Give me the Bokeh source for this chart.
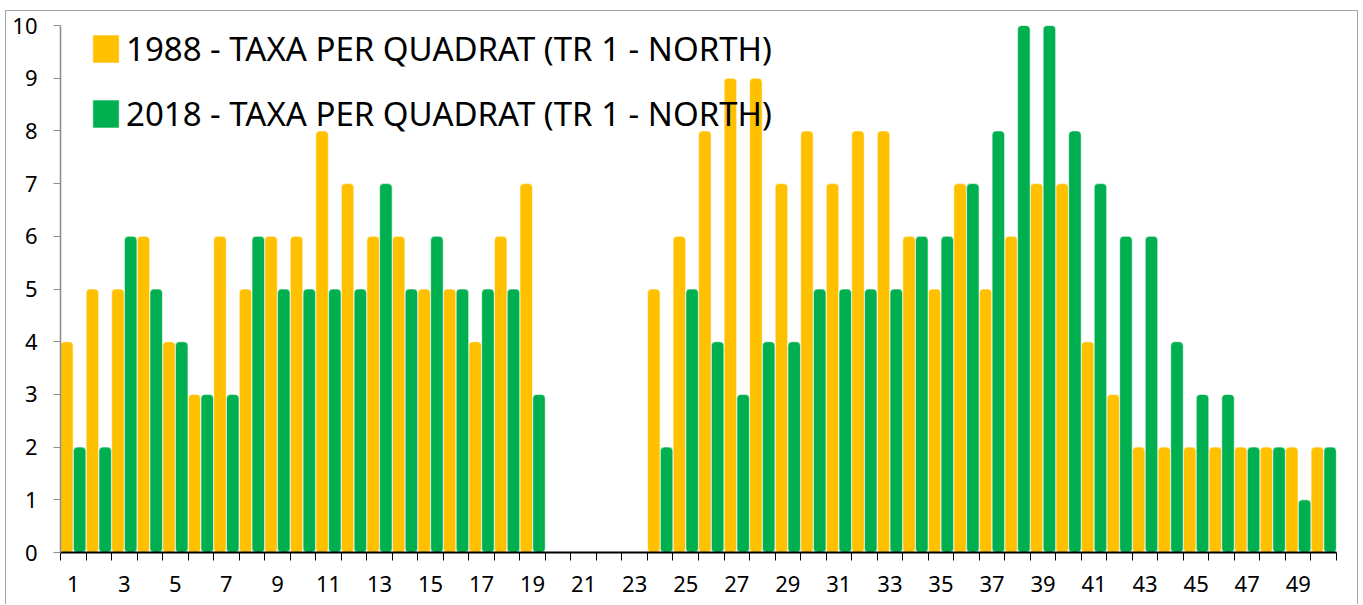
from bokeh.plotting import figure
from bokeh.models import ColumnDataSource, FixedTicker, Legend, LegendItem, Range1d
from bokeh.embed import file_html
from bokeh.resources import INLINE

quadrats = list(range(1, 51))
taxa_1988 = [4, 5, 5, 6, 4, 3, 6, 5, 6, 6, 8, 7, 6, 6, 5, 5, 4, 6, 7, 0,
             0, 0, 0, 5, 6, 8, 9, 9, 7, 8, 7, 8, 8, 6, 5, 7, 5, 6, 7, 7,
             4, 3, 2, 2, 2, 2, 2, 2, 2, 2]
taxa_2018 = [2, 2, 6, 5, 4, 3, 3, 6, 5, 5, 5, 5, 7, 5, 6, 5, 5, 5, 3, 0,
             0, 0, 0, 2, 5, 4, 3, 4, 4, 5, 5, 5, 5, 6, 6, 7, 8, 11, 11, 8,
             7, 6, 6, 4, 3, 3, 2, 2, 1, 2]
label_1988 = "1988 - TAXA PER QUADRAT (TR 1 - NORTH)"
label_2018 = "2018 - TAXA PER QUADRAT (TR 1 - NORTH)"
y_ticks = list(range(0, 11))
x_label_ticks = list(range(1, 51, 2))

YELLOW = "#FFC000"
GREEN = "#00B050"

src = ColumnDataSource(dict(
    x1=[q - 0.25 for q in quadrats],
    x2=[q + 0.25 for q in quadrats],
    a=taxa_1988,
    b=taxa_2018,
))

p = figure(width=1353, height=594, output_backend="svg", toolbar_location=None,
           x_range=Range1d(0.5, 50.5), y_range=Range1d(0, 10),
           min_border_left=54, min_border_right=23, min_border_top=14, min_border_bottom=53)
p.outline_line_color = None
p.xgrid.visible = False
p.ygrid.visible = False
p.background_fill_color = "white"
p.styles = {"margin-left": "5px", "margin-top": "10px",
            "border-left": "1px solid #a6a6a6", "border-top": "1px solid #a6a6a6",
            "border-right": "1px solid #a6a6a6"}

r1 = p.vbar(x="x1", top="a", bottom=0, width=0.49, source=src, fill_color=YELLOW,
            line_color="white", line_width=0.6, border_radius=4)
r2 = p.vbar(x="x2", top="b", bottom=0, width=0.49, source=src, fill_color=GREEN,
            line_color="white", line_width=0.6, border_radius=4)

# x axis
p.xaxis.ticker = FixedTicker(ticks=x_label_ticks, minor_ticks=[q - 0.5 for q in quadrats] + [50.5])
p.xaxis.major_tick_out = 0
p.xaxis.major_tick_in = 0
p.xaxis.minor_tick_out = 8
p.xaxis.minor_tick_in = 0
p.xaxis.minor_tick_line_color = "black"
p.xaxis.minor_tick_line_width = 1
p.xaxis.axis_line_color = "black"
p.xaxis.axis_line_width = 2
p.xaxis.major_label_standoff = 15
p.xaxis.major_label_text_font = "Noto Sans"
p.xaxis.major_label_text_font_size = "22px"
p.xaxis.major_label_text_color = "black"

# y axis
p.yaxis.ticker = FixedTicker(ticks=y_ticks)
p.yaxis.minor_tick_line_color = None
p.yaxis.major_tick_out = 7
p.yaxis.major_tick_in = 0
p.yaxis.major_tick_line_color = "#8c8c8c"
p.yaxis.axis_line_color = "#8c8c8c"
p.yaxis.axis_line_width = 1.5
p.yaxis.major_label_standoff = 16
p.yaxis.major_label_text_font = "Noto Sans"
p.yaxis.major_label_text_font_size = "22px"
p.yaxis.major_label_text_color = "black"

legend = Legend(items=[LegendItem(label=label_1988, renderers=[r1]),
                       LegendItem(label=label_2018, renderers=[r2])],
                location=(29, 416), padding=0, margin=0, spacing=20,
                glyph_width=33, glyph_height=35, label_standoff=4,
                label_text_font="Noto Sans", label_text_font_size="33px",
                label_text_color="black", label_height=35,
                background_fill_alpha=0, border_line_alpha=0)
p.add_layout(legend, "center")

open("out.html", "w").write(file_html(p, INLINE))
